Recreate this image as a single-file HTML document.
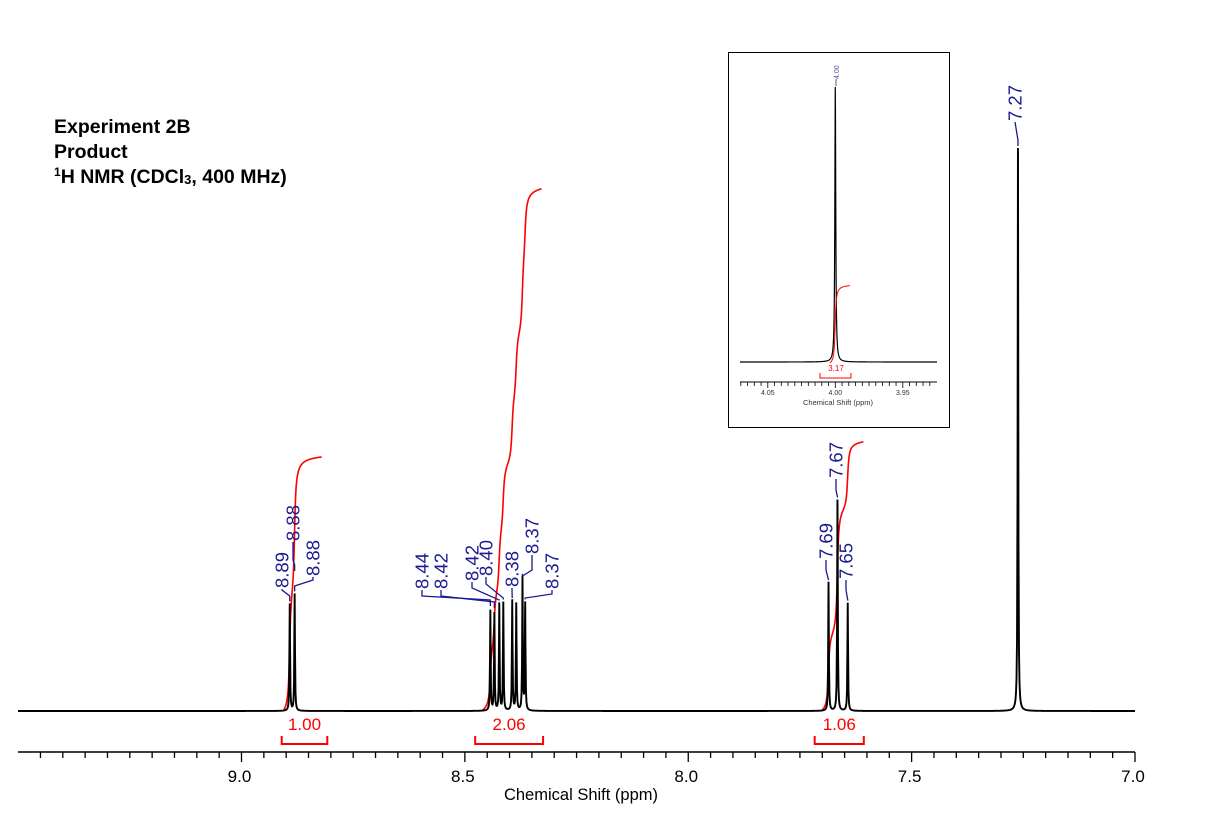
<!DOCTYPE html>
<html><head><meta charset="utf-8"><style>
html,body{margin:0;padding:0;background:#fff;}
svg{display:block;font-family:"Liberation Sans",Arial,sans-serif;}
</style></head><body>
<svg id="chart" width="1207" height="823" viewBox="0 0 1207 823" xmlns="http://www.w3.org/2000/svg">
<g font-weight="bold" font-size="19.5" fill="#000">
<text x="54" y="133">Experiment 2B</text>
<text x="54" y="158">Product</text>
<text x="54" y="183"><tspan font-size="12" dy="-7">1</tspan><tspan dy="7">H NMR (CDCl</tspan><tspan font-size="13" dy="1">3</tspan><tspan dy="-1">, 400 MHz)</tspan></text>
</g>
<g id="axis"></g>
<g id="integrals"></g>
<g id="spectrum"></g>
<g id="labels"></g>
<g id="inset"></g>
</svg>
<script>
// ---- main spectrum data ----
const peakPpm = [8.892, 8.881, 8.443, 8.434, 8.423, 8.414, 8.394, 8.385, 8.371, 8.365, 7.686, 7.666, 7.643, 7.262];
const peakIntensity = [0.190, 0.208, 0.178, 0.173, 0.190, 0.192, 0.196, 0.190, 0.236, 0.190, 0.229, 0.375, 0.192, 1.0];
const integralStart = [8.905, 8.46, 7.70];
const integralEnd = [8.82, 8.328, 7.608];
const integralValues = [1.00, 2.06, 1.06];
const integralLabels = ["1.00", "2.06", "1.06"];
const bracketStart = [8.91, 8.477, 7.717];
const bracketEnd = [8.808, 8.325, 7.607];
const majorTicks = [9.0, 8.5, 8.0, 7.5, 7.0];
const majorTickLabels = ["9.0", "8.5", "8.0", "7.5", "7.0"];
const labelTexts = ["8.89","8.88","8.88","8.44","8.42","8.42","8.40","8.38","8.37","8.37","7.69","7.67","7.65","7.27"];
// ---- inset data ----
const insetPeakPpm = [4.0];
const insetPeakIntensity = [1.0];
const insetTicks = [4.05, 4.00, 3.95];
const insetTickLabels = ["4.05","4.00","3.95"];
const insetIntegralValues = [3.17];

const NS="http://www.w3.org/2000/svg";
function el(tag, attrs, parent){const e=document.createElementNS(NS,tag);for(const k in attrs)e.setAttribute(k,attrs[k]);parent.appendChild(e);return e;}
const X0=241.5, PX=446.75, BASE=711, HSCALE=563;
const xS = p => X0 + (9.0 - p) * PX;
const yS = v => BASE - v * HSCALE;
const W = 0.0008;
function spec(p, pp, pi, w){let s=0;for(let i=0;i<pp.length;i++){const d=(p-pp[i])/w;s+=pi[i]/(1+d*d);}return s;}

// axis
const ax=document.getElementById('axis');
let a=el('line',{x1:18,y1:752,x2:1135,y2:752,stroke:'#000','stroke-width':1.5},ax);

for(let k=0;k<=49;k++){const p=7.0+k*0.05;const x=xS(p);if(x<18)continue;
 const major=Math.abs(p*2-Math.round(p*2))<1e-6;
 const t=el('line',{x1:x,y1:752,x2:x,y2:major?762:758,stroke:'#000','stroke-width':1.3},ax);
 }
majorTicks.forEach((p,i)=>{const t=el('text',{x:xS(p)-2,y:782,'text-anchor':'middle','font-size':17,fill:'#000'},ax);t.textContent=majorTickLabels[i];
 });
const xt=el('text',{x:581,y:800,'text-anchor':'middle','font-size':16.5,fill:'#000'},ax);xt.textContent='Chemical Shift (ppm)';


// spectrum
const sp=document.getElementById('spectrum');
let pts=[];for(let x=18;x<=1135;x+=0.5)pts.push(9.0-(x-X0)/PX);
peakPpm.forEach(p=>pts.push(p));pts.sort((a,b)=>b-a);
let d=pts.map((p,i)=>(i?'L':'M')+xS(p).toFixed(2)+','+yS(spec(p,peakPpm,peakIntensity,W)).toFixed(2)).join('');
const sl=el('path',{d:d,fill:'none',stroke:'#000','stroke-width':1.9},sp);


// integrals
const ig=document.getElementById('integrals');const K=253;
integralValues.forEach((v,i)=>{
 const ps=[];for(let p=integralStart[i];p>=integralEnd[i];p-=0.0005)ps.push(p);
 const vals=ps.map(p=>spec(p,peakPpm,peakIntensity,W*3));let tot=vals.reduce((a,b)=>a+b,0);let c=0;
 const dd=ps.map((p,j)=>{c+=vals[j];return (j?'L':'M')+xS(p).toFixed(2)+','+(BASE-1-c/tot*v*K).toFixed(2);}).join('');
 const c1=el('path',{d:dd,fill:'none',stroke:'#f00','stroke-width':1.6},ig);
 
 const x1=xS(bracketStart[i]),x2=xS(bracketEnd[i]);
 const b=el('path',{d:`M${x1},736V744H${x2}V736`,fill:'none',stroke:'#f00','stroke-width':2},ig);
 
 const t=el('text',{x:(x1+x2)/2,y:730,'text-anchor':'middle','font-size':17,fill:'#f00'},ig);t.textContent=integralLabels[i];
 
});

// peak labels (annotation layout positions)
const lay=[[282,588,590,0,596],[293,541,560,1,565],[313,576,580,1,586],
[422,589,596,2,600],[441,589,596,3,602],[472,581,588,4,600],[486,576,584,5,598],
[512,587,590,6,598],[532,554,570,8,576],[552,589,594,9,598],
[826,559,570,10,580],[836,478,490,11,497],[846,579,590,12,600],[1015,121,122,13,140]];
const lg=document.getElementById('labels');const BL='#1a1a90';
lay.forEach((L,i)=>{const [lx,lb,jy,pi,jy2]=L;const px=xS(peakPpm[pi]);
 const top=Math.min(yS(spec(peakPpm[pi],peakPpm,peakIntensity,W))-2,jy2+6);
 const c=el('polyline',{points:`${lx},${lb+1} ${lx},${jy} ${px},${jy2} ${px},${top}`,fill:'none',stroke:BL,'stroke-width':1.3},lg);
 
 const t=el('text',{x:0,y:0,transform:`translate(${lx+6.5},${lb}) rotate(-90)`,'font-size':18.5,fill:BL},lg);t.textContent=labelTexts[i];
 });

// inset
const ins=document.getElementById('inset');
const r=el('rect',{x:728.5,y:52.5,width:221,height:375,fill:'#fff',stroke:'#000','stroke-width':1},ins);

const iX=p=>835.3+(4.0-p)*1350, iB=362, iH=275;
let ip=[];for(let x=740;x<=937;x+=0.25)ip.push(4.0-(x-835.3)/1350);ip.push(4.0);ip.sort((a,b)=>b-a);
const il=el('path',{d:ip.map((p,i)=>(i?'L':'M')+iX(p).toFixed(2)+','+(iB-iH*spec(p,insetPeakPpm,insetPeakIntensity,0.0004)).toFixed(2)).join(''),fill:'none',stroke:'#000','stroke-width':1.2},ins);

{const ps=[];for(let p=4.004;p>=3.989;p-=0.0002)ps.push(p);const v=ps.map(p=>spec(p,insetPeakPpm,insetPeakIntensity,0.0006));const tot=v.reduce((a,b)=>a+b,0);let c=0;
 const ic=el('path',{d:ps.map((p,j)=>{c+=v[j];return (j?'L':'M')+iX(p).toFixed(2)+','+(iB+1-c/tot*insetIntegralValues[0]*24.4).toFixed(2);}).join(''),fill:'none',stroke:'#f00','stroke-width':1},ins);
 }
const ib=el('path',{d:'M820,373V378H851V373',fill:'none',stroke:'#f00','stroke-width':1},ins);

const iv=el('text',{x:836,y:371,'text-anchor':'middle','font-size':8,fill:'#f00'},ins);iv.textContent=insetIntegralValues[0].toFixed(2);

const ia=el('line',{x1:740,y1:382,x2:937,y2:382,stroke:'#000','stroke-width':1},ins);

for(let k=0;k<=28;k++){const p=4.07-k*0.005;const x=iX(p);if(x<740||x>937)continue;
 const t=el('line',{x1:x,y1:382,x2:x,y2:Math.abs(p*20-Math.round(p*20))<1e-6?388:386,stroke:'#000','stroke-width':0.8},ins);
 }
insetTicks.forEach((p,i)=>{const t=el('text',{x:iX(p),y:395,'text-anchor':'middle','font-size':7,fill:'#333'},ins);t.textContent=insetTickLabels[i];
 });
const it=el('text',{x:838,y:405,'text-anchor':'middle','font-size':7.5,fill:'#333'},ins);it.textContent='Chemical Shift (ppm)';

const pl=el('line',{x1:836,y1:79,x2:836,y2:86,stroke:'#55559a','stroke-width':1},ins);

const plt=el('text',{transform:'translate(839,79) rotate(-90)','font-size':7,fill:'#55559a'},ins);plt.textContent='4.00';

</script>
</body></html>
